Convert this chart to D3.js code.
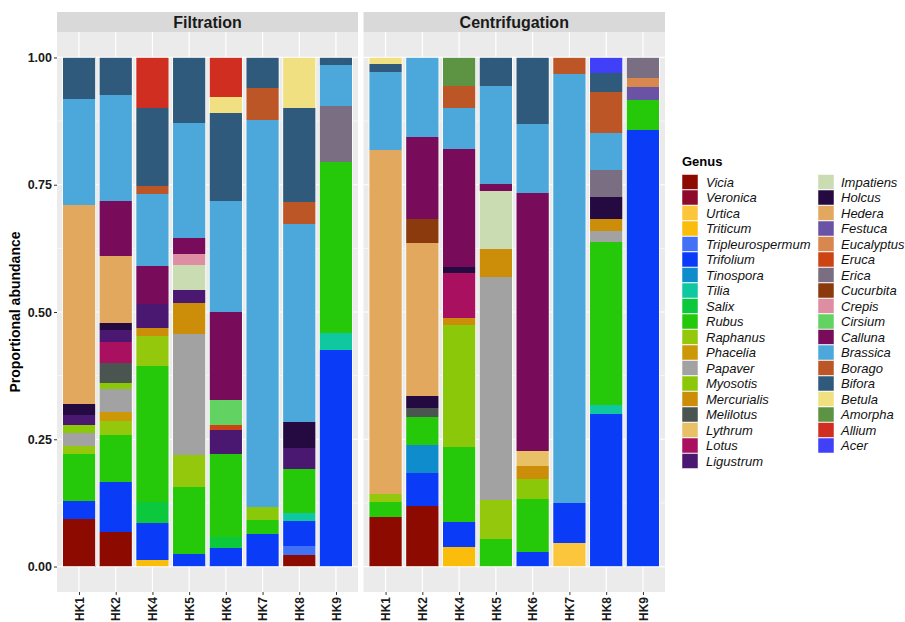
<!DOCTYPE html>
<html><head><meta charset="utf-8">
<script src="https://cdn.jsdelivr.net/npm/d3@7"></script>
<style>body{margin:0;background:#fff;}svg{display:block;font-family:"Liberation Sans",Arial,sans-serif;}</style>
</head><body><svg id="c" width="905" height="622"></svg>
<script>
// ---- DATA ----
const genera = ["Vicia","Veronica","Urtica","Triticum","Tripleurospermum","Trifolium","Tinospora","Tilia","Salix","Rubus","Raphanus","Phacelia","Papaver","Myosotis","Mercurialis","Melilotus","Lythrum","Lotus","Ligustrum","Impatiens","Holcus","Hedera","Festuca","Eucalyptus","Eruca","Erica","Cucurbita","Crepis","Cirsium","Calluna","Brassica","Borago","Bifora","Betula","Amorpha","Allium","Acer"];
const genusColors = ["#8c0a00","#8e0a2c","#fcc63c","#fbbd0c","#4172f5","#0a3cf8","#0e8ccc","#10c8a0","#0cc83c","#26c80a","#94c80c","#cc9808","#a2a2a2","#8cc80a","#cc8e08","#4a5450","#e8c066","#aa1060","#4a1870","#cadcb2","#240a40","#e2a85e","#6a52a4","#d8884e","#cc4414","#7a6e82","#8a3a0c","#de8ea2","#62d262","#780c5a","#4ca8da","#bc5626","#305a7c","#f0e082","#5c9444","#d02e20","#4040f8"];
const samples = ["HK1","HK2","HK4","HK5","HK6","HK7","HK8","HK9"];
const methods = ["Filtration","Centrifugation"];
const yTicks = [0, 0.25, 0.5, 0.75, 1];

const filtHK1 = [["Vicia",.093],["Trifolium",.036],["Rubus",.093],["Raphanus",.015],["Papaver",.026],["Myosotis",.016],["Ligustrum",.018],["Holcus",.023],["Hedera",.391],["Brassica",.207],["Bifora",.082]];
const filtHK2 = [["Vicia",.067],["Trifolium",.100],["Rubus",.092],["Raphanus",.027],["Phacelia",.018],["Papaver",.044],["Myosotis",.013],["Melilotus",.038],["Lotus",.043],["Ligustrum",.022],["Holcus",.014],["Hedera",.132],["Calluna",.109],["Brassica",.208],["Bifora",.073]];
const filtHK4 = [["Triticum",.013],["Trifolium",.072],["Salix",.042],["Rubus",.266],["Raphanus",.059],["Mercurialis",.017],["Ligustrum",.047],["Calluna",.075],["Brassica",.141],["Borago",.015],["Bifora",.153],["Allium",.100]];
const filtHK5 = [["Trifolium",.025],["Rubus",.132],["Raphanus",.062],["Papaver",.237],["Mercurialis",.061],["Ligustrum",.026],["Impatiens",.050],["Crepis",.021],["Calluna",.031],["Brassica",.226],["Bifora",.129]];
const filtHK6 = [["Trifolium",.036],["Salix",.022],["Rubus",.164],["Ligustrum",.046],["Eruca",.011],["Cirsium",.049],["Calluna",.172],["Brassica",.219],["Bifora",.172],["Betula",.031],["Allium",.078]];
const filtHK7 = [["Trifolium",.063],["Rubus",.029],["Myosotis",.024],["Brassica",.761],["Borago",.063],["Bifora",.060]];
const filtHK8 = [["Vicia",.023],["Tripleurospermum",.018],["Trifolium",.049],["Tilia",.015],["Rubus",.086],["Ligustrum",.042],["Holcus",.050],["Brassica",.389],["Borago",.045],["Bifora",.183],["Betula",.100]];
const filtHK9 = [["Trifolium",.426],["Tilia",.033],["Rubus",.335],["Erica",.111],["Brassica",.081],["Bifora",.014]];

const centHK1 = [["Vicia",.098],["Rubus",.029],["Raphanus",.015],["Hedera",.676],["Brassica",.154],["Bifora",.015],["Betula",.013]];
const centHK2 = [["Vicia",.118],["Trifolium",.065],["Tinospora",.055],["Rubus",.056],["Melilotus",.018],["Holcus",.023],["Hedera",.300],["Cucurbita",.048],["Calluna",.160],["Brassica",.157]];
const centHK4 = [["Triticum",.038],["Trifolium",.050],["Rubus",.146],["Myosotis",.241],["Mercurialis",.014],["Lotus",.087],["Holcus",.012],["Calluna",.232],["Brassica",.080],["Borago",.043],["Amorpha",.057]];
const centHK5 = [["Rubus",.055],["Raphanus",.076],["Papaver",.438],["Mercurialis",.054],["Impatiens",.115],["Calluna",.014],["Brassica",.191],["Bifora",.057]];
const centHK6 = [["Trifolium",.029],["Rubus",.104],["Myosotis",.039],["Mercurialis",.026],["Lythrum",.028],["Calluna",.508],["Brassica",.135],["Bifora",.131]];
const centHK7 = [["Urtica",.047],["Trifolium",.077],["Brassica",.843],["Borago",.033]];
const centHK8 = [["Trifolium",.300],["Tilia",.018],["Rubus",.320],["Papaver",.021],["Mercurialis",.023],["Holcus",.044],["Erica",.052],["Brassica",.074],["Borago",.081],["Bifora",.036],["Acer",.031]];
const centHK9 = [["Trifolium",.857],["Rubus",.060],["Festuca",.025],["Eucalyptus",.017],["Erica",.041]];

const filtration = [filtHK1,filtHK2,filtHK4,filtHK5,filtHK6,filtHK7,filtHK8,filtHK9];
const centrifugation = [centHK1,centHK2,centHK4,centHK5,centHK6,centHK7,centHK8,centHK9];

// ---- CHART ----
const svg = d3.select("#c");
const color = d3.scaleOrdinal().domain(genera).range(genusColors);
const y = d3.scaleLinear().domain([-0.05, 1.05]).range([592, 32]);
const panels = [{name:methods[0], x0:57, x1:358, data:filtration},{name:methods[1], x0:363.5, x1:665, data:centrifugation}];

panels.forEach(p => {
  const x = d3.scalePoint().domain(samples).range([p.x0, p.x1]).padding(0.6);
  const bw = x.step() * 0.9;
  const g = svg.append("g");
  g.append("rect").attr("x", p.x0).attr("y", y(1.05)).attr("width", p.x1 - p.x0).attr("height", y(-0.05) - y(1.05)).attr("fill", "#ebebeb");
  [0.125,0.375,0.625,0.875].forEach(v => g.append("line").attr("x1",p.x0).attr("x2",p.x1).attr("y1",y(v)).attr("y2",y(v)).attr("stroke","#fff").attr("stroke-width",0.6));
  yTicks.forEach(v => g.append("line").attr("x1",p.x0).attr("x2",p.x1).attr("y1",y(v)).attr("y2",y(v)).attr("stroke","#fff").attr("stroke-width",1.2));
  samples.forEach(s => g.append("line").attr("x1",x(s)).attr("x2",x(s)).attr("y1",y(1.05)).attr("y2",y(-0.05)).attr("stroke","#fff").attr("stroke-width",1.2));
  g.append("rect").attr("x", p.x0).attr("y", 12).attr("width", p.x1 - p.x0).attr("height", 20).attr("fill", "#d9d9d9");
  g.append("text").attr("x", (p.x0 + p.x1) / 2).attr("y", 28).attr("text-anchor","middle").attr("font-weight","bold").attr("font-size",16).attr("fill","#1a1a1a").text(p.name);
  p.data.forEach((bar, i) => {
    const s = samples[i];
    const total = d3.sum(bar, d => d[1]);
    let cum = 0;
    const bg = g.append("g");
    bar.forEach(([gen, v]) => {
      const lo = cum / total, hi = (cum + v) / total;
      cum += v;
      bg.append("rect").attr("x", x(s) - bw/2).attr("width", bw).attr("y", y(hi)).attr("height", y(lo) - y(hi)).attr("fill", color(gen)).attr("shape-rendering","crispEdges");
    });
    bg.append("rect").attr("x", x(s) - bw/2).attr("width", bw).attr("y", y(1)).attr("height", y(0) - y(1)).attr("fill","none").attr("stroke","#fff").attr("stroke-width",0.8);
  });
  const xa = d3.axisBottom(x).tickSize(3).tickSizeOuter(0);
  const ax = svg.append("g").attr("transform", `translate(0,${y(-0.05)})`).call(xa);
  ax.select(".domain").remove();
  ax.selectAll(".tick line").attr("stroke","#333");
  ax.selectAll(".tick text").attr("font-size",12).attr("font-weight","bold").attr("fill","#1a1a1a")
    .attr("transform","rotate(-90)").attr("text-anchor","end").attr("x",-5).attr("y",0).attr("dy","0.35em");
});

const ya = d3.axisLeft(y).tickValues(yTicks).tickFormat(d3.format(".2f")).tickSize(3).tickSizeOuter(0);
const yax = svg.append("g").attr("transform","translate(57,0)").call(ya);
yax.select(".domain").remove();
yax.selectAll(".tick line").attr("stroke","#333");
yax.selectAll(".tick text").attr("font-size",12.5).attr("font-weight","bold").attr("fill","#1a1a1a").attr("x",-5);

svg.append("text").attr("transform","translate(20,312) rotate(-90)").attr("text-anchor","middle").attr("font-size",14).attr("font-weight","bold").attr("fill","#000").text("Proportional abundance");

const lg = svg.append("g");
lg.append("text").attr("x",682).attr("y",166).attr("font-size",13).attr("font-weight","bold").attr("fill","#000").text("Genus");
const perCol = 19, step = 15.5;
genera.forEach((gname, i) => {
  const col = Math.floor(i / perCol), row = i % perCol;
  const kx = col === 0 ? 682 : 818, tx = col === 0 ? 706 : 841;
  const cy = 182 + row * step;
  lg.append("rect").attr("x",kx).attr("y",cy - 7.5).attr("width",16).attr("height",15).attr("fill",color(gname)).attr("stroke","#fff").attr("stroke-width",0.5);
  lg.append("text").attr("x",tx).attr("y",cy + 4.5).attr("font-size",13).attr("font-style","italic").attr("fill","#111").text(gname);
});
</script></body></html>
